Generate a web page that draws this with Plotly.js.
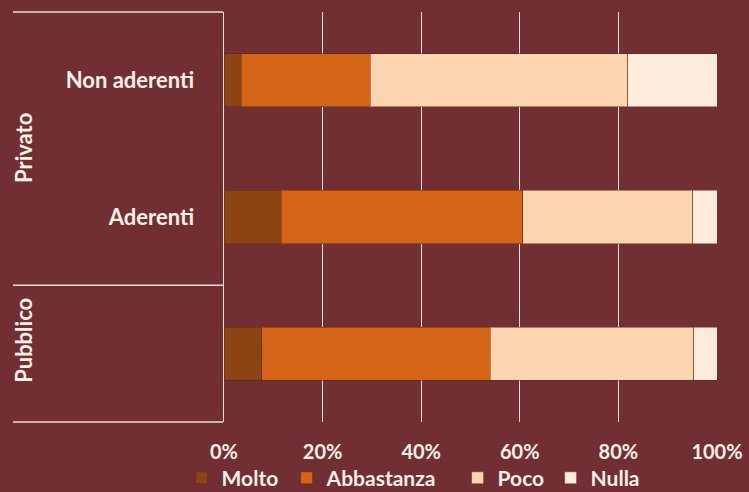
<!DOCTYPE html>
<html>
<head>
<meta charset="utf-8">
<script src="https://cdn.plot.ly/plotly-3.0.1.min.js"></script>
<style>html,body{margin:0;padding:0;background:#722f33;}</style>
</head>
<body>
<div id="chart" style="width:749px;height:492px;"></div>
<script>
// Data (bottom-to-top order)
const rows = ["Pubblico", "Privato - Aderenti", "Privato - Non aderenti"];
const rowLabels = ["", "Aderenti", "Non aderenti"];
const groups = ["Pubblico", "Privato"];
const seriesNames = ["Molto", "Abbastanza", "Poco", "Nulla"];
const molto      = [7.7, 11.6, 3.5];
const abbastanza = [46.3, 49.0, 26.2];
const poco       = [41.3, 34.5, 52.2];
const nulla      = [4.7, 4.9, 18.1];
const xTicks = [0, 20, 40, 60, 80, 100];
const xTickLabels = ["0%", "20%", "40%", "60%", "80%", "100%"];

const colors = ["#8c4413", "#d56516", "#fdd4b0", "#fdebdc"];
const legendWidths = [60, 126, 48, 52];
const values = [molto, abbastanza, poco, nulla];
const txt = "#f6efe7";
const lineCol = "#eddcd6";
const FONT = "Lato, 'Open Sans', sans-serif";

const traces = seriesNames.map((n, i) => ({
  type: "bar",
  orientation: "h",
  name: n,
  y: rows,
  x: values[i],
  width: 0.39,
  legendwidth: legendWidths[i],
  marker: {color: colors[i], line: {color: "rgba(90,35,15,0.45)", width: 1}},
  hoverinfo: "skip"
}));

const annotations = [
  {text: groups[1], x: -0.408, y: 0.668, textangle: -90},
  {text: groups[0], x: -0.408, y: 0.2, textangle: -90}
].map(a => Object.assign({
  xref: "paper", yref: "paper", showarrow: false,
  xanchor: "center", yanchor: "middle",
  font: {family: FONT, size: 22, color: txt, weight: 700}
}, a));

const lx0 = -0.428, lx1 = -0.002;
const shapes = [1, 1/3, 0].map(yy => ({
  type: "line", xref: "paper", yref: "paper",
  x0: lx0, x1: lx1, y0: yy, y1: yy,
  line: {color: lineCol, width: 1.5}
}));

const layout = {
  width: 749, height: 492,
  paper_bgcolor: "#722f33",
  plot_bgcolor: "#722f33",
  barmode: "stack",
  margin: {l: 224, r: 32, t: 12, b: 70, autoexpand: false},
  font: {family: FONT, color: txt},
  xaxis: {
    range: [0, 100],
    tickvals: xTicks,
    ticktext: xTickLabels,
    showgrid: true,
    gridcolor: "#efe2de",
    gridwidth: 1,
    zeroline: false,
    showline: false,
    ticks: "",
    ticklabelstandoff: 16,
    tickfont: {family: FONT, size: 20, color: txt, weight: 700},
    automargin: false,
    fixedrange: true
  },
  yaxis: {
    type: "category",
    categoryorder: "array",
    categoryarray: rows,
    tickvals: rows,
    ticktext: rowLabels,
    range: [-0.5, 2.5],
    showgrid: false,
    zeroline: false,
    showline: true,
    linecolor: lineCol,
    linewidth: 1.5,
    ticks: "",
    ticklabelstandoff: 24,
    tickfont: {family: FONT, size: 22, color: txt, weight: 700},
    automargin: false,
    fixedrange: true
  },
  showlegend: true,
  legend: {
    orientation: "h",
    x: -0.086, xanchor: "left",
    y: -0.137, yanchor: "middle",
    traceorder: "normal",
    bgcolor: "rgba(0,0,0,0)",
    font: {family: FONT, size: 21, color: txt, weight: 700},
    itemclick: false, itemdoubleclick: false
  },
  annotations: annotations,
  shapes: shapes
};

Plotly.newPlot("chart", traces, layout, {displayModeBar: false, staticPlot: true});
</script>
</body>
</html>
